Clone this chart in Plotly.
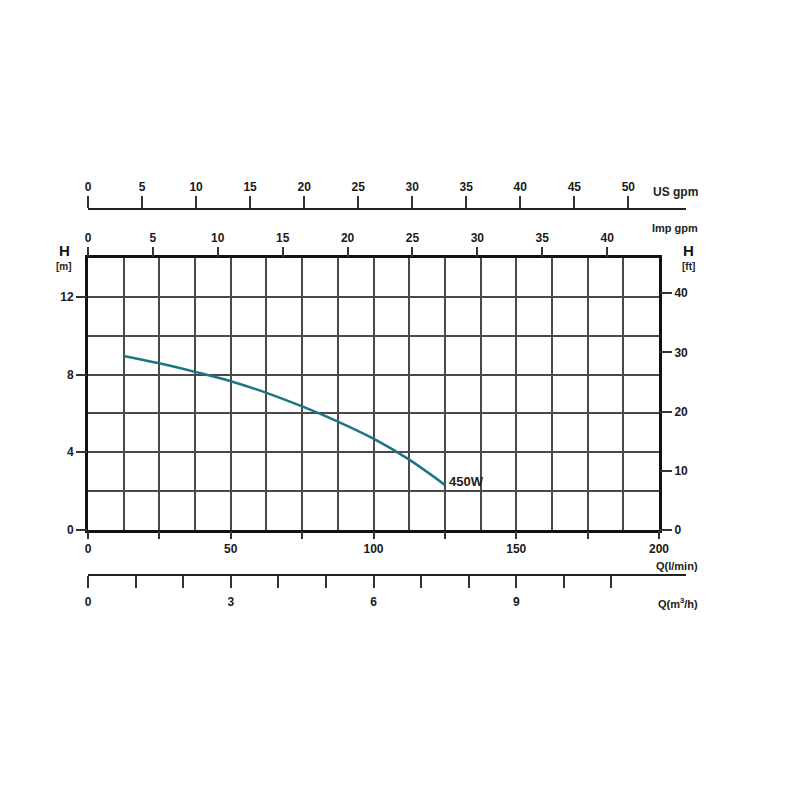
import plotly.graph_objects as go

# ---------------- data ----------------
Q_LPM = [12.5, 25, 37.5, 50, 62.5, 75, 87.5, 100, 112.5, 125]
H_M = [8.96, 8.58, 8.14, 7.66, 7.06, 6.36, 5.58, 4.70, 3.62, 2.32]
CURVE_NAME = "450W"

Q_TICKS = [0, 25, 50, 75, 100, 125, 150, 175, 200]
Q_TICKTEXT = ["0", "", "50", "", "100", "", "150", "", "200"]
M3H_TICKS = [0, 1, 2, 3, 4, 5, 6, 7, 8, 9, 10, 11]
M3H_TICKTEXT = ["0", "", "", "3", "", "", "6", "", "", "9", "", ""]
USGPM_TICKS = [0, 5, 10, 15, 20, 25, 30, 35, 40, 45, 50]
IMPGPM_TICKS = [0, 5, 10, 15, 20, 25, 30, 35, 40]
HM_TICKS = [0, 4, 8, 12]
HFT_TICKS = [0, 10, 20, 30, 40]
Q_GRID_STEP = 12.5
H_GRID_STEP = 2

Q_MAX = 200.0
H_MAX = 14.0
LPM_PER_USGPM = 3.78541
LPM_PER_IMPGPM = 4.54609
M3H_PER_LPM = 0.06
M_PER_FT = 0.3048

# ---------------- layout geometry ----------------
OFF = 8                     # page body margin of the browser
W, HGT = 784, 784
PAPER_L, PAPER_R = 88 - OFF, 700 - OFF
PAPER_T, PAPER_B = 200 - OFF, 590 - OFF
ML, MR, MT, MB = PAPER_L, W - PAPER_R, PAPER_T, HGT - PAPER_B
PW = PAPER_R - PAPER_L
PH = PAPER_B - PAPER_T


def px_x(px):
    return (px - OFF - PAPER_L) / PW


def px_y(py):
    return (PAPER_B - (py - OFF)) / PH


X_DOM_MAIN = [0, px_x(659)]
X_DOM_EXT = [0, px_x(686)]
Y_DOM = [px_y(530), px_y(258)]
Q_EXT = Q_MAX * (686 - 88) / (659 - 88)

FONT = "Liberation Sans, Arial, sans-serif"
TICKFONT = dict(family=FONT, size=12, color="#1a1a1a", weight="bold")
GRID = "#4a4a4a"
FRAME = "#111111"
TICKC = "#333333"

fig = go.Figure()
fig.add_trace(go.Scatter(x=Q_LPM, y=H_M, mode="lines", name=CURVE_NAME,
                         line=dict(color="#1d7482", width=2.5, shape="spline", smoothing=1.0),
                         xaxis="x", yaxis="y", hoverinfo="skip"))
# invisible traces so that every secondary axis gets drawn
for xa, ya in [("x2", "y"), ("x5", "y"), ("x", "y2"), ("x", "y4"), ("x3", "y3"), ("x4", "y3")]:
    fig.add_trace(go.Scatter(x=[None], y=[None], mode="markers", xaxis=xa, yaxis=ya,
                             showlegend=False, hoverinfo="skip"))

fig.add_annotation(x=Q_LPM[-1], y=H_M[-1], xref="x", yref="y", text="<b>" + CURVE_NAME + "</b>",
                   showarrow=False, xanchor="left", yanchor="middle", xshift=2, yshift=3,
                   font=dict(family=FONT, size=13, color="#222"))

common_ann = dict(showarrow=False, xref="paper", yref="paper")
fig.add_annotation(x=px_x(700), y=px_y(192), text="<b>US gpm</b>", xanchor="right",
                   yanchor="middle", font=dict(family=FONT, size=12, color="#222"), **common_ann)
fig.add_annotation(x=px_x(700), y=px_y(228), text="<b>Imp gpm</b>", xanchor="right",
                   yanchor="middle", font=dict(family=FONT, size=11, color="#222"), **common_ann)
fig.add_annotation(x=px_x(700), y=px_y(566), text="<b>Q(l/min)</b>", xanchor="right",
                   yanchor="middle", font=dict(family=FONT, size=11, color="#222"), **common_ann)
fig.add_annotation(x=px_x(700), y=px_y(603), text="<b>Q(m<sup>3</sup>/h)</b>", xanchor="right",
                   yanchor="middle", font=dict(family=FONT, size=11, color="#222"), **common_ann)
for cx, unit in [(64, "[m]"), (688, "[ft]")]:
    fig.add_annotation(x=px_x(cx), y=px_y(250), text="<b>H</b>", xanchor="center",
                       yanchor="middle", font=dict(family=FONT, size=15, color="#111"),
                       **common_ann)
    fig.add_annotation(x=px_x(cx), y=px_y(266), text="<b>" + unit + "</b>", xanchor="center",
                       yanchor="middle", font=dict(family=FONT, size=10, color="#222"),
                       **common_ann)

TICKFMT = dict(tickfont=TICKFONT, fixedrange=True, automargin=False, zeroline=False)

fig.update_layout(
    width=W, height=HGT, margin=dict(l=ML, r=MR, t=MT, b=MB, autoexpand=False),
    paper_bgcolor="white", plot_bgcolor="rgba(0,0,0,0)", showlegend=False,
    # main Q axis: grid only
    xaxis=dict(domain=X_DOM_MAIN, range=[0, Q_MAX], anchor="y",
               tickmode="linear", tick0=0, dtick=Q_GRID_STEP, ticks="", showticklabels=False,
               showline=True, linewidth=2.5, linecolor=FRAME, mirror=True,
               showgrid=True, gridcolor=GRID, gridwidth=2, layer="below traces", **TICKFMT),
    # Q l/min ticks and labels
    xaxis5=dict(overlaying="x", side="bottom", anchor="y", range=[0, Q_MAX],
                tickmode="array", tickvals=Q_TICKS, ticktext=Q_TICKTEXT,
                ticks="outside", ticklen=8, tickwidth=2, tickcolor=TICKC,
                showline=False, showgrid=False, **TICKFMT),
    xaxis2=dict(overlaying="x", side="top", anchor="y", range=[0, Q_MAX / LPM_PER_IMPGPM],
                tickmode="array", tickvals=IMPGPM_TICKS, ticks="outside", ticklen=10,
                tickwidth=2, tickcolor=TICKC, showline=False, showgrid=False, **TICKFMT),
    xaxis3=dict(domain=X_DOM_EXT, anchor="free", position=px_y(209), side="top",
                range=[0, Q_EXT / LPM_PER_USGPM], tickmode="array", tickvals=USGPM_TICKS,
                ticks="outside", ticklen=12, tickwidth=2, tickcolor=TICKC,
                showline=True, linewidth=2, linecolor="#222", showgrid=False, **TICKFMT),
    xaxis4=dict(domain=X_DOM_EXT, anchor="free", position=px_y(575), side="bottom",
                range=[0, Q_EXT * M3H_PER_LPM], tickmode="array", tickvals=M3H_TICKS,
                ticktext=M3H_TICKTEXT, ticks="outside", ticklen=12, tickwidth=2,
                tickcolor=TICKC, showline=True, linewidth=2, linecolor="#222",
                showgrid=False, ticklabelstandoff=4, **TICKFMT),
    # main H axis: grid only
    yaxis=dict(domain=Y_DOM, range=[0, H_MAX], anchor="x",
               tickmode="linear", tick0=0, dtick=H_GRID_STEP, ticks="", showticklabels=False,
               showline=True, linewidth=2.5, linecolor=FRAME, mirror=True,
               showgrid=True, gridcolor=GRID, gridwidth=2, **TICKFMT),
    yaxis4=dict(overlaying="y", side="left", anchor="x", range=[0, H_MAX],
                tickmode="array", tickvals=HM_TICKS, ticks="outside", ticklen=11,
                tickwidth=2, tickcolor=TICKC, showline=False, showgrid=False, **TICKFMT),
    yaxis2=dict(overlaying="y", side="right", anchor="x", range=[0, H_MAX / M_PER_FT],
                tickmode="array", tickvals=HFT_TICKS, ticks="outside", ticklen=12,
                tickwidth=2, tickcolor=TICKC, showline=False, showgrid=False, **TICKFMT),
    yaxis3=dict(domain=Y_DOM, anchor="x3", range=[0, H_MAX], visible=False, fixedrange=True),
)

fig.write_html("out.html")
